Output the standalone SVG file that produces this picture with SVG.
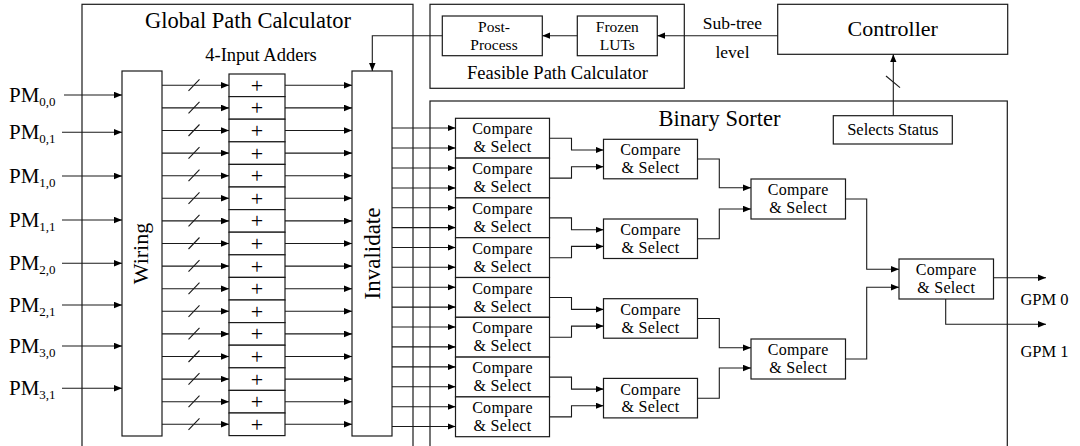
<svg xmlns="http://www.w3.org/2000/svg" width="1080" height="446" viewBox="0 0 1080 446" font-family="'Liberation Serif', 'Times New Roman', serif">
  <style>
    text { font-family: "Liberation Serif", "Times New Roman", serif; fill: #000; }
    .box { fill: #fff; stroke: #1a1a1a; stroke-width: 1.2; }
    .frame { fill: none; stroke: #1a1a1a; stroke-width: 1.2; }
    .ln { fill: none; stroke: #1a1a1a; stroke-width: 1.1; }
    .arr { fill: none; stroke: #1a1a1a; stroke-width: 1.1; marker-end: url(#ah); }
    .cs { font-family: "Liberation Serif", "Times New Roman", serif; font-size: 16px; letter-spacing: 0.3px; text-anchor: middle; }
    .plus { font-family: "Liberation Serif", "Times New Roman", serif; font-size: 22px; text-anchor: middle; fill: #000; }
    .title { font-family: "Liberation Serif", "Times New Roman", serif; font-size: 22.5px; text-anchor: middle; }
    .lbl { font-family: "Liberation Serif", "Times New Roman", serif; text-anchor: middle; }
    .pm { font-family: "Liberation Serif", "Times New Roman", serif; font-size: 21px; }
    .sub { font-size: 13px; }
  </style>
  <defs>
    <marker id="ah" markerUnits="userSpaceOnUse" markerWidth="9" markerHeight="7" refX="8" refY="3.25" orient="auto">
      <path d="M0,0 L8,3.25 L0,6.5 z" fill="#000"/>
    </marker>
  </defs>

  <!-- enclosing blocks -->
  <g id="global-path-calculator">
    <rect class="frame" x="82" y="4.3" width="331" height="470"/>
    <text class="title" x="248" y="28.3">Global Path Calculator</text>
    <text class="lbl" x="261" y="61" font-size="18.5">4-Input Adders</text>
  </g>
  <g id="feasible-path-calculator">
    <rect class="frame" x="430" y="4.3" width="254.3" height="84"/>
    <text class="lbl" x="557.5" y="79" font-size="18.5">Feasible Path Calculator</text>
  </g>
  <g id="binary-sorter">
    <rect class="frame" x="430" y="101" width="577.3" height="400"/>
    <text class="title" x="719.5" y="125.5">Binary Sorter</text>
  </g>

  <!-- inputs -->
  <g id="inputs">
    <text class="pm" x="9" y="101.5">PM<tspan class="sub" dy="4.5">0,0</tspan></text>
    <text class="pm" x="9" y="138.8">PM<tspan class="sub" dy="4.5">0,1</tspan></text>
    <text class="pm" x="9" y="182.5">PM<tspan class="sub" dy="4.5">1,0</tspan></text>
    <text class="pm" x="9" y="226.5">PM<tspan class="sub" dy="4.5">1,1</tspan></text>
    <text class="pm" x="9" y="269.8">PM<tspan class="sub" dy="4.5">2,0</tspan></text>
    <text class="pm" x="9" y="311.5">PM<tspan class="sub" dy="4.5">2,1</tspan></text>
    <text class="pm" x="9" y="352.5">PM<tspan class="sub" dy="4.5">3,0</tspan></text>
    <text class="pm" x="9" y="394.8">PM<tspan class="sub" dy="4.5">3,1</tspan></text>
  </g>

  <g id="wiring">
    <rect class="box" x="122" y="71" width="40" height="365"/>
    <text class="lbl" transform="translate(147.5 253.5) rotate(-90)" font-size="22">Wiring</text>
  </g>

  <g id="adders">
    <rect class="box" x="229" y="74" width="56" height="22.6"/>
    <rect class="box" x="229" y="96.6" width="56" height="22.6"/>
    <rect class="box" x="229" y="119.2" width="56" height="22.6"/>
    <rect class="box" x="229" y="141.8" width="56" height="22.6"/>
    <rect class="box" x="229" y="164.4" width="56" height="22.6"/>
    <rect class="box" x="229" y="187" width="56" height="22.6"/>
    <rect class="box" x="229" y="209.6" width="56" height="22.6"/>
    <rect class="box" x="229" y="232.2" width="56" height="22.6"/>
    <rect class="box" x="229" y="254.8" width="56" height="22.6"/>
    <rect class="box" x="229" y="277.4" width="56" height="22.6"/>
    <rect class="box" x="229" y="300" width="56" height="22.6"/>
    <rect class="box" x="229" y="322.6" width="56" height="22.6"/>
    <rect class="box" x="229" y="345.2" width="56" height="22.6"/>
    <rect class="box" x="229" y="367.8" width="56" height="22.6"/>
    <rect class="box" x="229" y="390.4" width="56" height="22.6"/>
    <rect class="box" x="229" y="413" width="56" height="22.6"/>
    <text class="plus" x="257" y="92.8">+</text>
    <text class="plus" x="257" y="115.4">+</text>
    <text class="plus" x="257" y="138">+</text>
    <text class="plus" x="257" y="160.6">+</text>
    <text class="plus" x="257" y="183.2">+</text>
    <text class="plus" x="257" y="205.8">+</text>
    <text class="plus" x="257" y="228.4">+</text>
    <text class="plus" x="257" y="251">+</text>
    <text class="plus" x="257" y="273.6">+</text>
    <text class="plus" x="257" y="296.2">+</text>
    <text class="plus" x="257" y="318.8">+</text>
    <text class="plus" x="257" y="341.4">+</text>
    <text class="plus" x="257" y="364">+</text>
    <text class="plus" x="257" y="386.6">+</text>
    <text class="plus" x="257" y="409.2">+</text>
    <text class="plus" x="257" y="431.8">+</text>
  </g>

  <g id="invalidate">
    <rect class="box" x="352" y="71" width="40" height="365"/>
    <text class="lbl" transform="translate(380 253.5) rotate(-90)" font-size="23">Invalidate</text>
  </g>

  <g id="post-process">
    <rect class="box" x="442.3" y="16" width="100" height="39.7"/>
    <text class="lbl" font-size="15.5"><tspan x="494" y="31.7">Post-</tspan><tspan x="494" y="50">Process</tspan></text>
  </g>
  <g id="frozen-luts">
    <rect class="box" x="577.3" y="16" width="80" height="39.7"/>
    <text class="lbl" font-size="15.5"><tspan x="617.3" y="31.7">Frozen</tspan><tspan x="617.3" y="50">LUTs</tspan></text>
  </g>
  <g id="controller">
    <rect class="box" x="777.7" y="4.3" width="230" height="50"/>
    <text class="lbl" x="892.7" y="36" font-size="22">Controller</text>
  </g>
  <g id="selects-status">
    <rect class="box" x="833.3" y="115.7" width="119" height="28.3"/>
    <text class="lbl" x="892.8" y="134.5" font-size="16.5">Selects Status</text>
  </g>

  <!-- compare & select tree, stage 1 -->
  <g id="cs-1-0"><rect class="box" x="455.5" y="118.3" width="94" height="39.8"/><text class="cs"><tspan x="502.5" y="134.4">Compare</tspan><tspan x="502.5" y="152.3">&amp; Select</tspan></text></g>
  <g id="cs-1-1"><rect class="box" x="455.5" y="158.1" width="94" height="39.8"/><text class="cs"><tspan x="502.5" y="174.2">Compare</tspan><tspan x="502.5" y="192.1">&amp; Select</tspan></text></g>
  <g id="cs-1-2"><rect class="box" x="455.5" y="197.9" width="94" height="39.8"/><text class="cs"><tspan x="502.5" y="214">Compare</tspan><tspan x="502.5" y="231.9">&amp; Select</tspan></text></g>
  <g id="cs-1-3"><rect class="box" x="455.5" y="237.7" width="94" height="39.8"/><text class="cs"><tspan x="502.5" y="253.8">Compare</tspan><tspan x="502.5" y="271.7">&amp; Select</tspan></text></g>
  <g id="cs-1-4"><rect class="box" x="455.5" y="277.5" width="94" height="39.8"/><text class="cs"><tspan x="502.5" y="293.6">Compare</tspan><tspan x="502.5" y="311.5">&amp; Select</tspan></text></g>
  <g id="cs-1-5"><rect class="box" x="455.5" y="317.3" width="94" height="39.8"/><text class="cs"><tspan x="502.5" y="333.4">Compare</tspan><tspan x="502.5" y="351.3">&amp; Select</tspan></text></g>
  <g id="cs-1-6"><rect class="box" x="455.5" y="357.1" width="94" height="39.8"/><text class="cs"><tspan x="502.5" y="373.2">Compare</tspan><tspan x="502.5" y="391.1">&amp; Select</tspan></text></g>
  <g id="cs-1-7"><rect class="box" x="455.5" y="396.9" width="94" height="39.8"/><text class="cs"><tspan x="502.5" y="413">Compare</tspan><tspan x="502.5" y="430.9">&amp; Select</tspan></text></g>

  <!-- stage 2 -->
  <g id="cs-2-0"><rect class="box" x="603.5" y="139.3" width="94" height="39.5"/><text class="cs"><tspan x="650.5" y="155.4">Compare</tspan><tspan x="650.5" y="173.3">&amp; Select</tspan></text></g>
  <g id="cs-2-1"><rect class="box" x="603.5" y="219" width="94" height="39.5"/><text class="cs"><tspan x="650.5" y="235.1">Compare</tspan><tspan x="650.5" y="253">&amp; Select</tspan></text></g>
  <g id="cs-2-2"><rect class="box" x="603.5" y="298.7" width="94" height="39.5"/><text class="cs"><tspan x="650.5" y="314.8">Compare</tspan><tspan x="650.5" y="332.7">&amp; Select</tspan></text></g>
  <g id="cs-2-3"><rect class="box" x="603.5" y="378.4" width="94" height="39.5"/><text class="cs"><tspan x="650.5" y="394.5">Compare</tspan><tspan x="650.5" y="412.4">&amp; Select</tspan></text></g>

  <!-- stage 3 -->
  <g id="cs-3-0"><rect class="box" x="751" y="179" width="94.5" height="40"/><text class="cs"><tspan x="798.2" y="195.1">Compare</tspan><tspan x="798.2" y="213">&amp; Select</tspan></text></g>
  <g id="cs-3-1"><rect class="box" x="751" y="339" width="94.5" height="40"/><text class="cs"><tspan x="798.2" y="355.1">Compare</tspan><tspan x="798.2" y="373">&amp; Select</tspan></text></g>

  <!-- stage 4 -->
  <g id="cs-4-0"><rect class="box" x="899" y="259" width="94.5" height="40"/><text class="cs"><tspan x="946.2" y="275.1">Compare</tspan><tspan x="946.2" y="293">&amp; Select</tspan></text></g>

  <g id="outputs">
    <text class="lbl" x="1044.5" y="305" font-size="16.5">GPM 0</text>
    <text class="lbl" x="1044.5" y="356.7" font-size="16.5">GPM 1</text>
  </g>

  <g id="connectors">
    <!-- PM inputs into wiring -->
    <path class="arr" d="M64,95 H122"/>
    <path class="arr" d="M62,132.3 H122"/>
    <path class="arr" d="M62,176 H122"/>
    <path class="arr" d="M62,220 H122"/>
    <path class="arr" d="M62,263.3 H122"/>
    <path class="arr" d="M62,305 H122"/>
    <path class="arr" d="M62,346 H122"/>
    <path class="arr" d="M62,388.3 H122"/>

    <!-- wiring to adders (bus) -->
    <path class="arr" d="M162,85.3 H229"/>
    <path class="arr" d="M162,107.9 H229"/>
    <path class="arr" d="M162,130.5 H229"/>
    <path class="arr" d="M162,153.1 H229"/>
    <path class="arr" d="M162,175.7 H229"/>
    <path class="arr" d="M162,198.3 H229"/>
    <path class="arr" d="M162,220.9 H229"/>
    <path class="arr" d="M162,243.5 H229"/>
    <path class="arr" d="M162,266.1 H229"/>
    <path class="arr" d="M162,288.7 H229"/>
    <path class="arr" d="M162,311.3 H229"/>
    <path class="arr" d="M162,333.9 H229"/>
    <path class="arr" d="M162,356.5 H229"/>
    <path class="arr" d="M162,379.1 H229"/>
    <path class="arr" d="M162,401.7 H229"/>
    <path class="arr" d="M162,424.3 H229"/>
    <path class="ln" d="M188.5,90.8 l11,-11.5 M188.5,113.4 l11,-11.5 M188.5,136 l11,-11.5 M188.5,158.6 l11,-11.5 M188.5,181.2 l11,-11.5 M188.5,203.8 l11,-11.5 M188.5,226.4 l11,-11.5 M188.5,249 l11,-11.5 M188.5,271.6 l11,-11.5 M188.5,294.2 l11,-11.5 M188.5,316.8 l11,-11.5 M188.5,339.4 l11,-11.5 M188.5,362 l11,-11.5 M188.5,384.6 l11,-11.5 M188.5,407.2 l11,-11.5 M188.5,429.8 l11,-11.5"/>

    <!-- adders to invalidate -->
    <path class="arr" d="M285,85.3 H352"/>
    <path class="arr" d="M285,107.9 H352"/>
    <path class="arr" d="M285,130.5 H352"/>
    <path class="arr" d="M285,153.1 H352"/>
    <path class="arr" d="M285,175.7 H352"/>
    <path class="arr" d="M285,198.3 H352"/>
    <path class="arr" d="M285,220.9 H352"/>
    <path class="arr" d="M285,243.5 H352"/>
    <path class="arr" d="M285,266.1 H352"/>
    <path class="arr" d="M285,288.7 H352"/>
    <path class="arr" d="M285,311.3 H352"/>
    <path class="arr" d="M285,333.9 H352"/>
    <path class="arr" d="M285,356.5 H352"/>
    <path class="arr" d="M285,379.1 H352"/>
    <path class="arr" d="M285,401.7 H352"/>
    <path class="arr" d="M285,424.3 H352"/>

    <!-- invalidate to stage 1 -->
    <path class="arr" d="M392,128 H455.5"/>
    <path class="arr" d="M392,148 H455.5"/>
    <path class="arr" d="M392,168 H455.5"/>
    <path class="arr" d="M392,188 H455.5"/>
    <path class="arr" d="M392,207.8 H455.5"/>
    <path class="arr" d="M392,227.6 H455.5"/>
    <path class="arr" d="M392,247.5 H455.5"/>
    <path class="arr" d="M392,267.3 H455.5"/>
    <path class="arr" d="M392,287.3 H455.5"/>
    <path class="arr" d="M392,307.1 H455.5"/>
    <path class="arr" d="M392,327 H455.5"/>
    <path class="arr" d="M392,346.9 H455.5"/>
    <path class="arr" d="M392,366.9 H455.5"/>
    <path class="arr" d="M392,386.7 H455.5"/>
    <path class="arr" d="M392,406.7 H455.5"/>
    <path class="arr" d="M392,426.5 H455.5"/>

    <!-- stage 1 to stage 2 -->
    <path class="arr" d="M549.5,138.3 H571.5 V150 H603.5"/>
    <path class="arr" d="M549.5,178.1 H571.5 V166.7 H603.5"/>
    <path class="arr" d="M549.5,217.9 H571.5 V229.7 H603.5"/>
    <path class="arr" d="M549.5,257.7 H571.5 V246.4 H603.5"/>
    <path class="arr" d="M549.5,297.5 H571.5 V309.4 H603.5"/>
    <path class="arr" d="M549.5,337.3 H571.5 V326.1 H603.5"/>
    <path class="arr" d="M549.5,377.1 H571.5 V389.1 H603.5"/>
    <path class="arr" d="M549.5,416.9 H571.5 V405.8 H603.5"/>

    <!-- stage 2 to stage 3 -->
    <path class="arr" d="M697.5,159 H719.3 V187.7 H751"/>
    <path class="arr" d="M697.5,238.8 H719.3 V209 H751"/>
    <path class="arr" d="M697.5,318.5 H719.3 V347.7 H751"/>
    <path class="arr" d="M697.5,398.2 H719.3 V368 H751"/>

    <!-- stage 3 to stage 4 -->
    <path class="arr" d="M845.5,199 H866.7 V269.3 H899"/>
    <path class="arr" d="M845.5,359 H866.7 V287.3 H899"/>

    <!-- results -->
    <path class="arr" d="M993.5,277.7 H1046"/>
    <path class="arr" d="M945.7,299 V324.3 H1046"/>

    <!-- feasible path and control -->
    <path class="arr" d="M577.3,35.7 H542.3"/>
    <path class="arr" d="M777.7,35.7 H657.3"/>
    <text class="lbl" font-size="17.5"><tspan x="732.5" y="29.3">Sub-tree</tspan><tspan x="732.5" y="57.7">level</tspan></text>
    <path class="arr" d="M442.3,35.7 H372.3 V71"/>
    <path class="arr" d="M893.3,115.7 V54.3"/>
    <path class="ln" d="M886,76 L900,87.7"/>
  </g>
</svg>
